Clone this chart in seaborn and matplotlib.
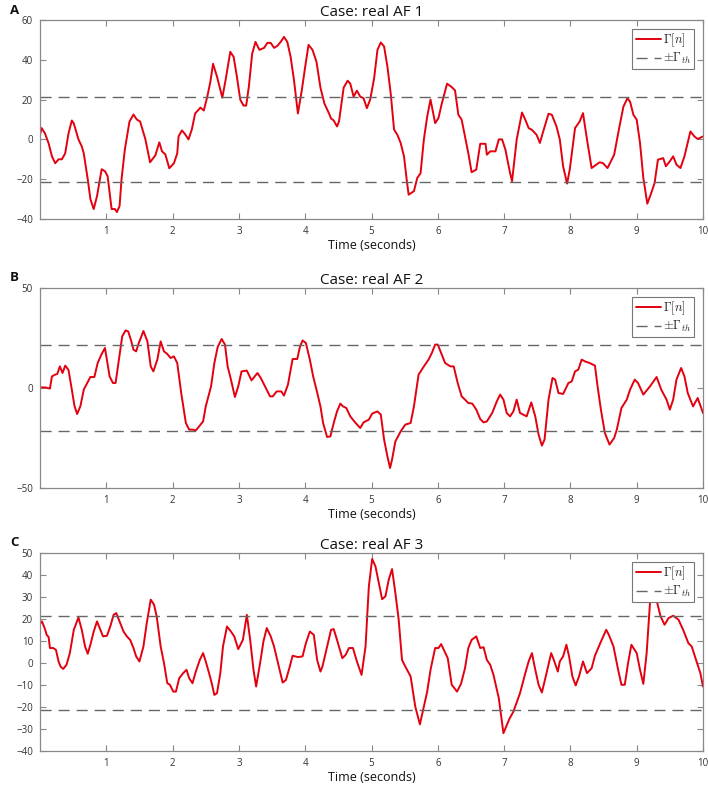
import numpy as np
import pandas as pd
import matplotlib
matplotlib.use("Agg")
import matplotlib.pyplot as plt
import seaborn as sns

# ---------------- data ----------------
titles = ["Case: real AF 1", "Case: real AF 2", "Case: real AF 3"]
panel_letters = ["A", "B", "C"]
threshold = 21.5
x_ticks = [1, 2, 3, 4, 5, 6, 7, 8, 9, 10]
y_ticks_a = [-40, -20, 0, 20, 40, 60]
y_ticks_b = [-50, 0, 50]
y_ticks_c = [-40, -30, -20, -10, 0, 10, 20, 30, 40, 50]

t_a = [0, 0.025, 0.075, 0.13, 0.18, 0.23, 0.28, 0.33, 0.38, 0.43, 0.48, 0.51, 0.58, 0.63, 0.66,
       0.72, 0.76, 0.81, 0.86, 0.93, 0.98, 1.02, 1.08, 1.13, 1.16, 1.2, 1.23, 1.28, 1.35, 1.41,
       1.46, 1.51, 1.59, 1.66, 1.74, 1.80, 1.84, 1.89, 1.95, 2.02, 2.07, 2.09, 2.14, 2.18, 2.24,
       2.29, 2.34, 2.42, 2.47, 2.52, 2.57, 2.61, 2.67, 2.75, 2.80, 2.87, 2.92, 2.97, 3.02, 3.07,
       3.11, 3.15, 3.20, 3.25, 3.31, 3.38, 3.43, 3.48, 3.53, 3.58, 3.63, 3.68, 3.73, 3.78, 3.83,
       3.89, 3.95, 4.0, 4.05, 4.11, 4.17, 4.23, 4.29, 4.36, 4.39, 4.43, 4.48, 4.51, 4.58, 4.64,
       4.68, 4.73, 4.78, 4.83, 4.88, 4.93, 4.98, 5.04, 5.09, 5.14, 5.19, 5.24, 5.29, 5.34, 5.39,
       5.44, 5.49, 5.53, 5.56, 5.64, 5.69, 5.74, 5.79, 5.84, 5.89, 5.96, 6.01, 6.06, 6.14, 6.21,
       6.26, 6.31, 6.36, 6.41, 6.46, 6.51, 6.58, 6.64, 6.72, 6.74, 6.79, 6.87, 6.92, 6.97, 7.02,
       7.09, 7.12, 7.19, 7.27, 7.32, 7.37, 7.42, 7.49, 7.54, 7.59, 7.67, 7.72, 7.79, 7.84, 7.89,
       7.95, 7.99, 8.07, 8.14, 8.19, 8.25, 8.32, 8.39, 8.44, 8.49, 8.56, 8.66, 8.74, 8.80, 8.86,
       8.90, 8.95, 9.0, 9.05, 9.1, 9.16, 9.22, 9.27, 9.32, 9.4, 9.44, 9.50, 9.55, 9.60, 9.66,
       9.72, 9.81, 9.87, 9.92, 10.0]
g_a = [2.3, 5.7, 3, -2, -8.5, -12, -10, -10, -7, 3, 9.5, 8, 0, -3.5, -7,
       -20, -30, -35, -28.5, -15, -16, -18.5, -35, -35, -36.5, -33.5, -20, -5, 9, 12.5,
       10, 9, 0, -11.5, -8, -1.5, -6, -7.5, -14.5, -12, -7, 1.5, 4.5, 3, 0,
       5, 13, 16, 14.5, 21, 29, 38, 31.5, 21, 30, 44, 41.5, 31.5, 20, 17,
       17, 26.5, 43, 49, 45, 46, 48.5, 48.5, 46, 47, 49, 51.5, 49, 41.5, 30,
       13, 25, 36.5, 47.5, 45, 39, 26, 18, 13, 10.5, 9.5, 6.5, 9, 26, 29.5,
       28, 21.5, 24.5, 21.5, 20.7, 15.7, 20, 30.8, 45, 48.7, 46.7, 36.6, 23, 5, 2.3,
       -1.8, -8.5, -20, -27.8, -26, -19.4, -17, 0, 11.5, 20, 8.2, 10.7, 18, 28, 26.3,
       24.6, 12.4, 9.9, 1.5, -6.9, -16.5, -15.2, -2.2, -2.2, -7.7, -6, -6, 0, 0, -5.2,
       -16.9, -21, 0, 13.5, 9.9, 5.7, 4.8, 2.3, -1.8, 4, 12.9, 12.4, 6.5, 0, -13.5,
       -22.2, -15.2, 5.7, 9, 13.2, 0, -14.4, -12.7, -11.5, -11.9, -14.4, -7.7, 6.5, 16.5, 20.7,
       19, 12.4, 9.9, -1.8, -19.4, -32.3, -26.9, -21.9, -10.2, -9.4, -13.5, -11, -8.5, -12.7, -14.4,
       -8.5, 4, 1.5, 0.2, 1.5]

t_b = [0, 0.08, 0.15, 0.18, 0.23, 0.26, 0.30, 0.34, 0.38, 0.43, 0.48, 0.52, 0.56, 0.61, 0.66,
       0.70, 0.76, 0.82, 0.87, 0.93, 0.98, 1.05, 1.10, 1.14, 1.19, 1.24, 1.29, 1.33, 1.37, 1.41,
       1.45, 1.49, 1.56, 1.62, 1.67, 1.71, 1.77, 1.82, 1.87, 1.92, 1.97, 2.02, 2.07, 2.13, 2.20,
       2.25, 2.30, 2.35, 2.40, 2.46, 2.50, 2.58, 2.63, 2.68, 2.74, 2.79, 2.83, 2.88, 2.94, 2.99,
       3.04, 3.12, 3.19, 3.28, 3.33, 3.38, 3.43, 3.47, 3.51, 3.57, 3.64, 3.68, 3.74, 3.81, 3.88,
       3.92, 3.96, 4.01, 4.07, 4.12, 4.17, 4.23, 4.27, 4.33, 4.38, 4.43, 4.48, 4.53, 4.57, 4.62,
       4.68, 4.76, 4.83, 4.88, 4.96, 5.01, 5.09, 5.14, 5.19, 5.24, 5.28, 5.31, 5.36, 5.44, 5.51,
       5.59, 5.64, 5.71, 5.79, 5.86, 5.91, 5.96, 6.0, 6.05, 6.11, 6.19, 6.24, 6.30, 6.36, 6.41,
       6.46, 6.52, 6.58, 6.64, 6.69, 6.74, 6.82, 6.89, 6.94, 6.99, 7.04, 7.09, 7.14, 7.19, 7.24,
       7.29, 7.34, 7.41, 7.47, 7.52, 7.57, 7.61, 7.67, 7.73, 7.77, 7.82, 7.89, 7.97, 8.02, 8.07,
       8.12, 8.17, 8.22, 8.29, 8.37, 8.41, 8.46, 8.52, 8.59, 8.66, 8.70, 8.77, 8.85, 8.90, 8.97,
       9.02, 9.10, 9.20, 9.30, 9.37, 9.45, 9.50, 9.55, 9.60, 9.67, 9.72, 9.77, 9.85, 9.92, 10.0]
g_b = [0.3, 0.3, -0.3, 5.8, 6.7, 7, 10.8, 7.5, 11.2, 9, -0.8, -9, -13, -9, -0.8,
       1.7, 5.5, 5.5, 12.5, 17, 20, 5.8, 2.5, 2.5, 14, 25.8, 28.8, 28.3, 24.2, 19.2,
       18.3, 22.5, 28.5, 23.3, 10.8, 8.3, 14.2, 23.3, 18.3, 17, 15, 15.8, 12.5, -2.5, -17.5,
       -20.8, -20.8, -21.2, -19.2, -16.7, -9.2, 0.8, 12.5, 20.5, 24.5, 21.7, 10.8, 4.2, -4.5, 0.8,
       8.3, 8.7, 3.8, 7.5, 5, 1.7, -1.7, -4.2, -4.2, -1.7, -1.7, -3.8, 1.7, 14.5, 14.5,
       20.5, 23.8, 22.5, 14.2, 5.8, -0.8, -9.2, -17.5, -24.5, -24.2, -17.5, -11.7, -7.8, -9.2, -10,
       -14.2, -17.5, -20, -17.2, -15.8, -12.8, -11.7, -13.3, -25.8, -34.2, -40, -35.8, -26.7, -21.7, -18.3,
       -17.5, -9.2, 6.7, 10.8, 14.2, 17.5, 21.7, 21.7, 17.5, 12.5, 10.8, 10.8, 2.5, -4.2, -5.8,
       -7.5, -7.8, -10.8, -15.5, -17.2, -16.7, -12.5, -6.7, -3.3, -5.8, -12.5, -14.2, -11.7, -5.8, -12.5,
       -13.3, -14.2, -7.2, -14.2, -23.3, -28.8, -25.8, -5.8, 5, 4.2, -2.5, -3, 2.5, 3.3, 8.3,
       9.2, 14.2, 13.3, 12.5, 11.2, 0.8, -10.8, -22.5, -28.3, -25, -20.8, -10, -5.8, -0.8, 4.2,
       2.5, -3.3, 0.8, 5.5, -0.8, -5.8, -10.8, -5.8, 4.2, 10, 5.8, -2.5, -9.2, -5, -12.5]

t_c = [0, 0.03, 0.08, 0.10, 0.13, 0.15, 0.20, 0.24, 0.28, 0.31, 0.35, 0.40, 0.45, 0.51, 0.58,
       0.63, 0.68, 0.72, 0.76, 0.81, 0.86, 0.91, 0.95, 1.01, 1.06, 1.11, 1.15, 1.2, 1.26, 1.31,
       1.36, 1.41, 1.45, 1.5, 1.56, 1.61, 1.67, 1.72, 1.76, 1.82, 1.87, 1.92, 1.96, 2.01, 2.05,
       2.10, 2.16, 2.21, 2.25, 2.30, 2.35, 2.41, 2.46, 2.50, 2.55, 2.59, 2.63, 2.67, 2.72, 2.76,
       2.82, 2.88, 2.93, 2.99, 3.06, 3.12, 3.17, 3.22, 3.26, 3.32, 3.37, 3.42, 3.48, 3.53, 3.59,
       3.66, 3.71, 3.76, 3.81, 3.89, 3.96, 4.01, 4.07, 4.13, 4.18, 4.23, 4.26, 4.33, 4.39, 4.43,
       4.48, 4.56, 4.61, 4.66, 4.72, 4.78, 4.85, 4.91, 4.96, 5.01, 5.06, 5.16, 5.21, 5.26, 5.31,
       5.36, 5.41, 5.46, 5.51, 5.59, 5.66, 5.73, 5.79, 5.84, 5.89, 5.96, 6.01, 6.05, 6.09, 6.15,
       6.21, 6.29, 6.35, 6.41, 6.46, 6.51, 6.58, 6.64, 6.69, 6.74, 6.79, 6.84, 6.92, 6.99, 7.08,
       7.14, 7.24, 7.32, 7.37, 7.42, 7.46, 7.52, 7.57, 7.64, 7.71, 7.75, 7.81, 7.84, 7.89, 7.94,
       7.98, 8.03, 8.08, 8.13, 8.19, 8.25, 8.32, 8.37, 8.45, 8.54, 8.58, 8.65, 8.72, 8.77, 8.82,
       8.87, 8.92, 9.0, 9.05, 9.10, 9.15, 9.20, 9.25, 9.30, 9.36, 9.42, 9.48, 9.55, 9.63, 9.70,
       9.78, 9.83, 9.91, 9.96, 10.0]
g_c = [17.8, 18.9, 15, 12.8, 11.8, 6.8, 6.8, 6, 0.7, -1.6, -2.7, -0.8, 4.5, 15.1, 20.7,
       15.1, 7.5, 4.2, 8.3, 14.3, 18.9, 15.1, 12.1, 12.4, 16.6, 21.9, 22.7, 18.9, 14.3, 12.1,
       10.5, 6.8, 3, 0.7, 7.5, 18.1, 28.8, 26.5, 21.2, 7.5, 0, -9.2, -9.9, -13, -13,
       -6.9, -4.6, -3.1, -6.9, -9.2, -3.9, 1.4, 4.5, 0.7, -4.6, -9.2, -14.5, -13.7, -4.6, 7.5,
       16.6, 14.3, 12.1, 6.3, 10.5, 21.9, 10.5, -3.1, -10.7, 0, 9.8, 15.9, 12.1, 7.5, 0,
       -8.9, -7.7, -2.4, 3.3, 2.7, 3, 9, 14.3, 12.8, 1.4, -3.9, -1.6, 7.5, 15.1, 15.4,
       10.5, 2.2, 3.7, 6.8, 6.8, 0.7, -5.4, 7.5, 34.8, 47.3, 43.9, 29, 30.3, 37.9, 42.7,
       31.8, 19.7, 1.4, -1.6, -6.1, -19.8, -27.9, -19.8, -13, -3.1, 6.8, 6.8, 8.6, 6, 2.2,
       -9.9, -13, -9.5, -2.4, 6.8, 10.5, 12.1, 6.8, 7.2, 1.4, -0.8, -5.4, -16, -31.9, -25.4,
       -22.1, -13.7, -4.6, 0.7, 4.5, -1.6, -9.9, -13.4, -4.6, 4.5, 1.4, -3.9, 0.7, 3, 8.3,
       3, -6.1, -10.2, -6.1, 0.7, -4.6, -2.4, 3.3, 9, 15.1, 12.8, 7.5, -3.1, -9.9, -9.9,
       0, 8.3, 4.5, -3.1, -9.5, 4.5, 27.2, 33, 28.5, 21.2, 17.4, 20.4, 21.5, 19.7, 15.1,
       9, 7.5, 0, -4.6, -10.7]

series_t = [t_a, t_b, t_c]
series_g = [g_a, g_b, g_c]
y_ticks = [y_ticks_a, y_ticks_b, y_ticks_c]

# ---------------- style ----------------
sns.set_style("white")
plt.rcParams['font.family'] = ['Open Sans', 'DejaVu Sans']
plt.rcParams['mathtext.fontset'] = 'cm'

fig = plt.figure(figsize=(7.08, 7.85), dpi=100)
W, H = 708, 785
boxes = [(40, 20, 703, 219), (40, 288, 703, 488), (40, 553, 703, 751)]
spine_col = "#888888"

for i in range(3):
    l, tp, r, b = boxes[i]
    ax = fig.add_axes([l / W, 1 - b / H, (r - l) / W, (b - tp) / H])
    df = pd.DataFrame({"t": series_t[i], "g": series_g[i]})
    sns.lineplot(data=df, x="t", y="g", ax=ax, color="#e3000f", lw=1.4,
                 label=r"$\Gamma[n]$", estimator=None, sort=False)
    ax.axhline(threshold, color="#666666", lw=1.0, ls=(0, (8, 5)), label=r"$\pm\Gamma_{th}$")
    ax.axhline(-threshold, color="#666666", lw=1.0, ls=(0, (8, 5)))
    ax.set_xlim(0, 10)
    ax.set_ylim(y_ticks[i][0], y_ticks[i][-1])
    ax.set_xticks(x_ticks)
    ax.set_yticks(y_ticks[i])
    ax.tick_params(direction="in", length=4, width=0.8, colors=spine_col,
                   labelcolor="#333333", labelsize=7, top=True, right=True,
                   left=True, bottom=True, pad=5)
    for s in ax.spines.values():
        s.set_color(spine_col)
        s.set_linewidth(0.9)
    ax.set_xlabel("Time (seconds)", fontsize=9, color="#111111", labelpad=1.5)
    ax.set_ylabel("")
    ax.set_title(titles[i], fontsize=11, color="#111111", pad=3)
    leg = ax.legend(loc="upper right", fontsize=9, frameon=True, fancybox=False,
                    framealpha=1, edgecolor="#777777", handlelength=2.0,
                    handletextpad=0.2, borderpad=0.25, labelspacing=0.12,
                    borderaxespad=0.7)
    leg.get_frame().set_linewidth(0.8)
    fig.text(10 / W, 1 - (tp - 10) / H, panel_letters[i], fontsize=9.5,
             fontweight="bold", ha="left", va="center", color="#111111")

fig.savefig("out.png", dpi=100)
